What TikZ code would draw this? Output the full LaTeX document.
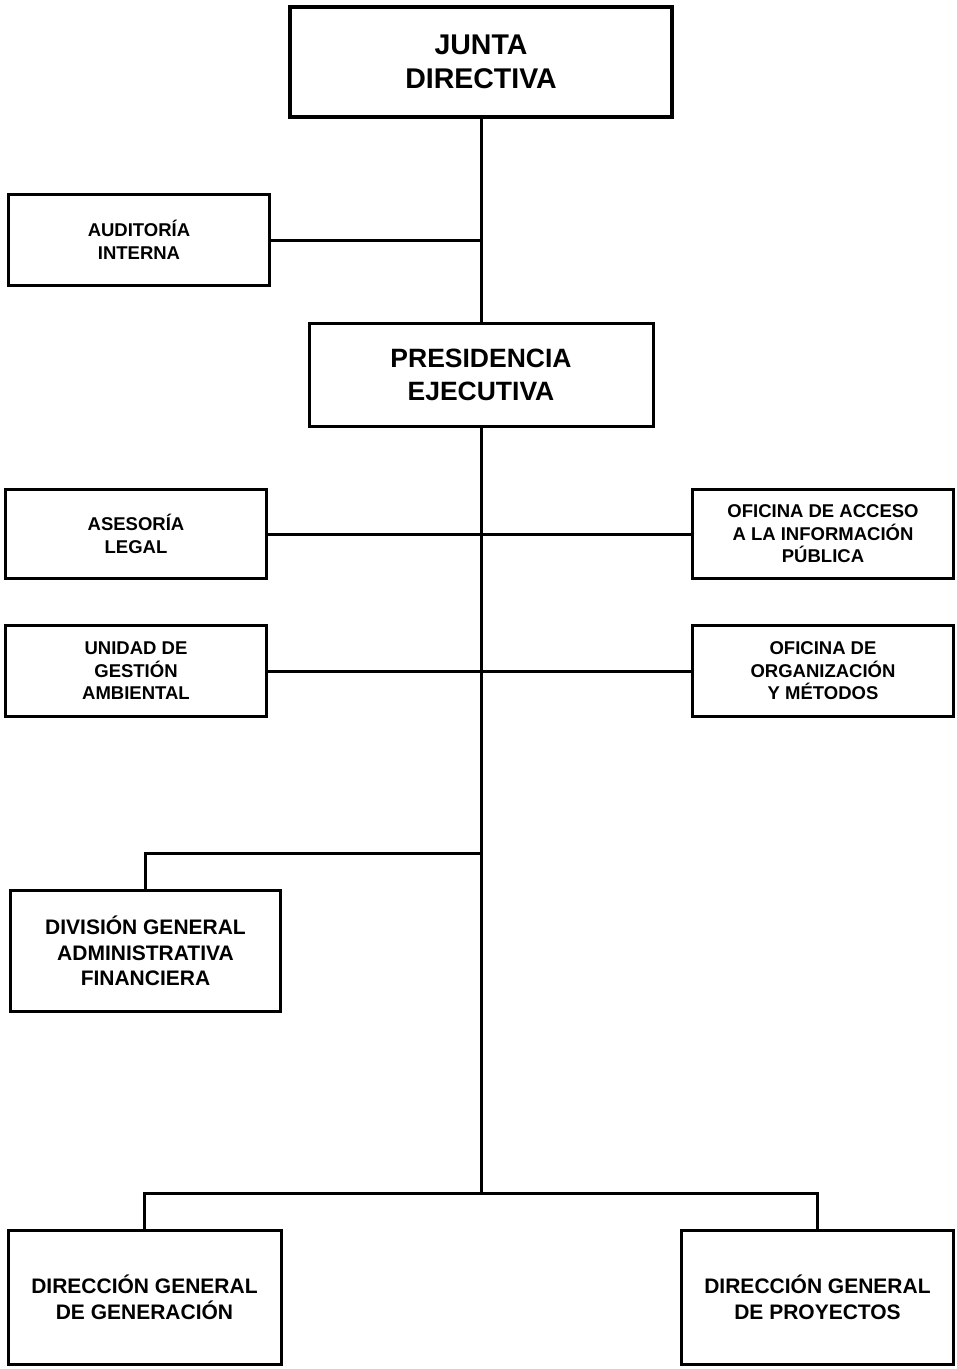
\documentclass[tikz,border=0pt]{standalone}
\usepackage{fontspec}
\setmainfont{Liberation Sans}
\begin{document}
\begin{tikzpicture}[x=1pt,y=-1pt,
  box/.style={draw=black,line width=3pt,rectangle,inner sep=0pt,align=center,font=\bfseries\fontsize{18.5}{22.5}\selectfont},
  bigbox/.style={box,line width=4pt,font=\bfseries\fontsize{28.5}{34}\selectfont},
  presbox/.style={box,font=\bfseries\fontsize{26.5}{33}\selectfont},
  midbox/.style={box,font=\bfseries\fontsize{21}{25.5}\selectfont},
  link/.style={line width=3pt,draw=black}]
\useasboundingbox[fill=white] (0,0) rectangle (957,1369);
\node[bigbox,minimum width=382pt,minimum height=110pt] (junta) at (481,62) {JUNTA\\DIRECTIVA};
\node[box,minimum width=261pt,minimum height=91pt] (aud) at (139,240) {AUDITORÍA\\INTERNA};
\node[presbox,minimum width=344pt,minimum height=103pt] (pres) at (481,375) {PRESIDENCIA\\EJECUTIVA};
\node[box,minimum width=261pt,minimum height=89pt] (ase) at (136,534) {ASESORÍA\\LEGAL};
\node[box,minimum width=261pt,minimum height=89pt] (ofa) at (823,534) {OFICINA DE ACCESO\\A LA INFORMACIÓN\\PÚBLICA};
\node[box,minimum width=261pt,minimum height=91pt] (uni) at (136,671) {UNIDAD DE\\GESTIÓN\\AMBIENTAL};
\node[box,minimum width=261pt,minimum height=91pt] (ofo) at (823,671) {OFICINA DE\\ORGANIZACIÓN\\Y MÉTODOS};
\node[midbox,minimum width=270pt,minimum height=121pt] (div) at (145.5,951) {DIVISIÓN GENERAL\\ADMINISTRATIVA\\FINANCIERA};
\node[midbox,minimum width=273pt,minimum height=134pt] (dgg) at (144.5,1297.5) {DIRECCIÓN GENERAL\\DE GENERACIÓN};
\node[midbox,minimum width=272pt,minimum height=134pt] (dgp) at (817.5,1297.5) {DIRECCIÓN GENERAL\\DE PROYECTOS};
\coordinate (j1) at (481,853);
\coordinate (j2) at (481,1193);
\draw[link] (junta.south) -- (pres.north);
\draw[link] (aud.east) -- (aud.east -| junta.south);
\draw[link] (pres.south) -- (j2);
\draw[link] (ase.east) -- (ofa.west);
\draw[link] (uni.east) -- (ofo.west);
\draw[link] (j1) -| (div.north);
\draw[link] (dgg.north) |- (j2) -| (dgp.north);
\end{tikzpicture}
\end{document}
